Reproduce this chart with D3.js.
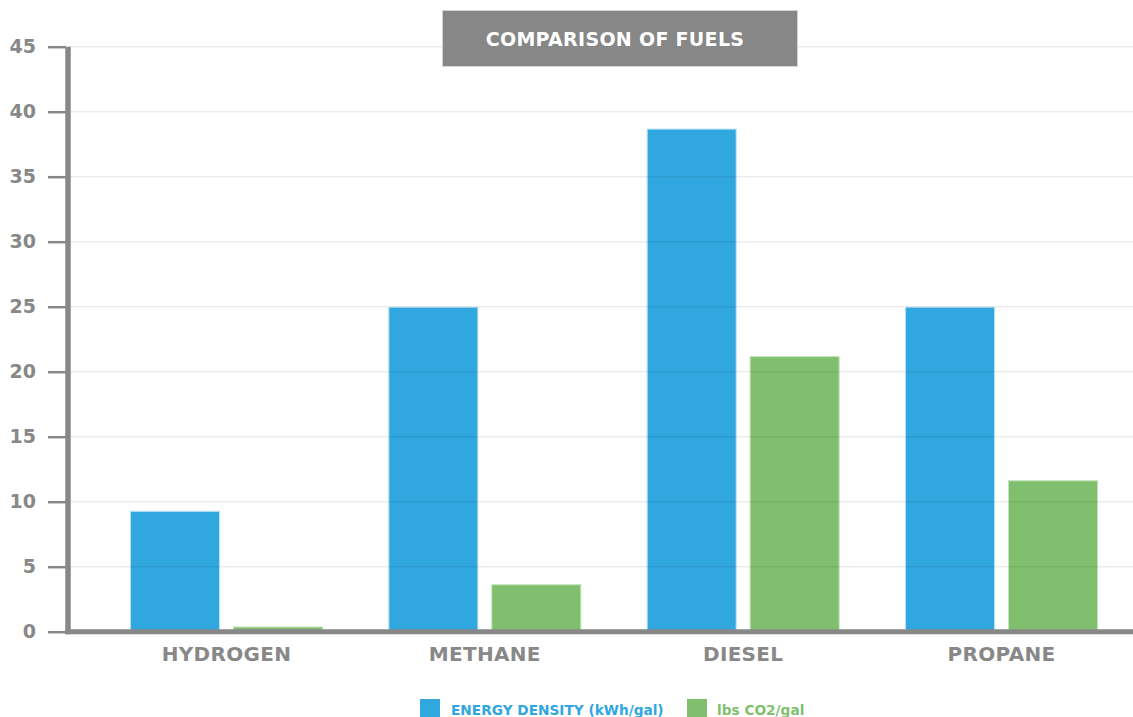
<!DOCTYPE html>
<html>
<head>
<meta charset="utf-8">
<script src="https://cdn.jsdelivr.net/npm/d3@7"></script>
<style>
  html, body { margin: 0; padding: 0; background: #ffffff; }
  svg { display: block; }
  text { font-family: "DejaVu Sans", sans-serif; font-weight: bold; }
</style>
</head>
<body>
<svg id="chart" width="1133" height="717"></svg>
<script>
// Fuel comparison data
const categories = ["HYDROGEN", "METHANE", "DIESEL", "PROPANE"];
const seriesNames = ["ENERGY DENSITY (kWh/gal)", "lbs CO2/gal"];
const energyDensity = [9.3, 25.0, 38.7, 25.0];
const co2PerGal = [0.4, 3.65, 21.2, 11.65];
const yTicks = [0, 5, 10, 15, 20, 25, 30, 35, 40, 45];
const titleText = "COMPARISON OF FUELS";

const colors = ["#30a7df", "#80bf6d"];
const strokes = ["#b9e1f5", "#c4e3ba"];
const grey = "#888888";

const svg = d3.select("#chart");
const W = 1133, H = 717;
const axisX = 68, baseY = 631.7, topY = 46.7;

const rows = categories.map((c, i) => ({ cat: c, values: [energyDensity[i], co2PerGal[i]] }));

const y = d3.scaleLinear().domain([0, 45]).range([baseY, topY]);
const x0 = d3.scaleBand().domain(categories).range([130, 1098]).paddingInner(0.253).paddingOuter(0);
const x1 = d3.scaleBand().domain([0, 1]).range([0, x0.bandwidth()]).paddingInner(0.126).paddingOuter(0);

// bars
const groups = svg.append("g").selectAll("g").data(rows).join("g")
  .attr("transform", d => `translate(${x0(d.cat)},0)`);
groups.selectAll("rect").data(d => d.values.map((v, k) => ({ v, k }))).join("rect")
  .attr("x", d => x1(d.k) + 0.5)
  .attr("width", x1.bandwidth() - 1)
  .attr("y", d => y(d.v) + 0.5)
  .attr("height", d => Math.max(0, baseY - y(d.v) - 0.5))
  .attr("fill", d => colors[d.k])
  .attr("stroke", d => strokes[d.k])
  .attr("stroke-width", 1);

// faint gridlines, drawn across the bars as well
svg.append("g").selectAll("line").data(yTicks.filter(t => t > 0)).join("line")
  .attr("x1", axisX).attr("x2", W)
  .attr("y1", d => y(d)).attr("y2", d => y(d))
  .attr("stroke", "#000").attr("stroke-opacity", 0.07).attr("stroke-width", 1.5);

// y axis
const yAxis = d3.axisLeft(y).tickValues(yTicks).tickSize(18).tickPadding(12);
const yg = svg.append("g").attr("transform", `translate(${axisX - 2},0)`).call(yAxis);
yg.select(".domain").remove();
yg.selectAll(".tick line").attr("stroke", grey).attr("stroke-width", 2.5);
yg.selectAll(".tick text").attr("fill", grey).attr("font-size", 19)
  .attr("font-family", "DejaVu Sans").attr("font-weight", "bold");

// axis lines
svg.append("line").attr("x1", axisX).attr("x2", axisX).attr("y1", topY).attr("y2", baseY + 2.5)
  .attr("stroke", grey).attr("stroke-width", 5.5);
svg.append("line").attr("x1", axisX - 2.5).attr("x2", W).attr("y1", baseY).attr("y2", baseY)
  .attr("stroke", grey).attr("stroke-width", 5);

// x axis labels
const xAxis = d3.axisBottom(x0).tickSize(0).tickPadding(15);
const xg = svg.append("g").attr("transform", `translate(0,${baseY})`).call(xAxis);
xg.select(".domain").remove();
xg.selectAll(".tick text").attr("fill", grey).attr("font-size", 20)
  .attr("letter-spacing", 0.3)
  .attr("font-family", "DejaVu Sans").attr("font-weight", "bold");

// title box
svg.append("rect").attr("x", 442.5).attr("y", 10.5).attr("width", 355).attr("height", 56)
  .attr("fill", "#878787").attr("stroke", "#d4d4d4").attr("stroke-width", 1);
svg.append("text").attr("x", 615).attr("y", 46).attr("text-anchor", "middle")
  .attr("fill", "#ffffff").attr("font-size", 19).attr("letter-spacing", 0.3).text(titleText);

// legend
const legend = [
  { name: seriesNames[0], sx: 420, tx: 451 },
  { name: seriesNames[1], sx: 687, tx: 717 }
];
const lg = svg.append("g");
legend.forEach((d, i) => {
  lg.append("rect").attr("x", d.sx).attr("y", 699).attr("width", 20).attr("height", 20).attr("fill", colors[i]);
  lg.append("text").attr("x", d.tx).attr("y", 715).attr("fill", colors[i]).attr("font-size", 13.7).text(d.name);
});
</script>
</body>
</html>
